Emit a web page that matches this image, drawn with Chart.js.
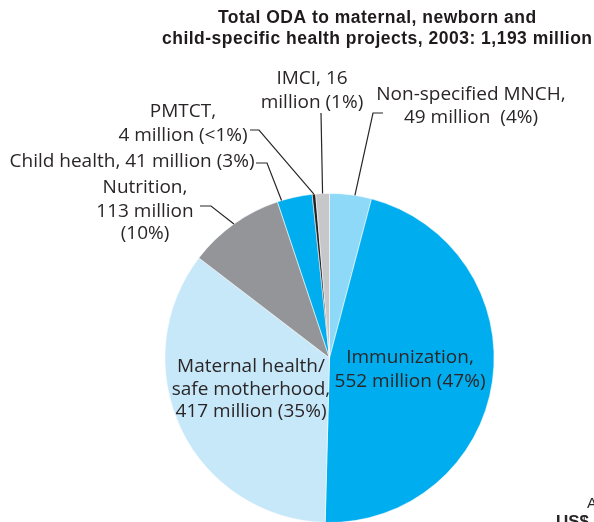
<!DOCTYPE html>
<html>
<head>
<meta charset="utf-8">
<script src="https://cdn.jsdelivr.net/npm/chart.js@4/dist/chart.umd.min.js"></script>
<style>
  html, body { margin: 0; padding: 0; background: #ffffff; overflow: hidden; width: 594px; height: 522px; }
  #wrap { position: relative; width: 594px; height: 540px; }
</style>
</head>
<body>
<div id="wrap"><canvas id="c" width="594" height="540"></canvas></div>
<script>
// ---- Data ----
const categories = ["Non-specified MNCH", "Immunization", "Maternal health/safe motherhood", "Nutrition", "Child health", "PMTCT", "IMCI"];
const values = [49, 552, 417, 113, 41, 4, 16];
const shares = ["4%", "47%", "35%", "10%", "3%", "<1%", "1%"];
const titleLines = ["Total ODA to maternal, newborn and", "child-specific health projects, 2003: 1,193 million"];
const colors = ["#8ed8f8", "#00aeef", "#c7e8f9", "#939598", "#00aeef", "#231f20", "#c6c7c9"];

const labelLines = [
  ["Non-specified MNCH,", values[0] + " million  (" + shares[0] + ")"],
  ["Immunization,", values[1] + " million (" + shares[1] + ")"],
  ["Maternal health/", "safe motherhood,", values[2] + " million (" + shares[2] + ")"],
  ["Nutrition,", values[3] + " million", "(" + shares[3] + ")"],
  ["Child health, " + values[4] + " million (" + shares[4] + ")"],
  ["PMTCT,", values[5] + " million (" + shares[5] + ")"],
  ["IMCI, " + values[6], "million (" + shares[6] + ")"]
];

// ---- Label layout (positions only) ----
const labelLayout = [
  { x: 471, y: [95, 118], leader: [[383, 113], [373, 113]], f: 0.6 },
  { x: 410, y: [358, 382], leader: null },
  { x: 251, y: [367, 390, 412], leader: null },
  { x: 145, y: [188, 212, 234], leader: [[200, 206], [211, 206]], f: 0.5 },
  { x: 132, y: [162], leader: [[256, 163], [267, 163]], f: 0.12 },
  { x: 183, y: [112, 136], leader: [[250, 130], [259, 130]], f: 0.5 },
  { x: 312, y: [79, 103], leader: [[321, 113]], f: 0.5 }
];

const TEXT = "#2a2627";
const FONT = "19px 'Open Sans', 'Liberation Sans', sans-serif";

const labelPlugin = {
  id: 'labels',
  afterDatasetsDraw(chart) {
    const ctx = chart.ctx;
    const meta = chart.getDatasetMeta(0);
    ctx.save();
    // leader lines
    ctx.strokeStyle = TEXT;
    ctx.lineWidth = 1.2;
    labelLayout.forEach((L, i) => {
      if (!L.leader) return;
      const arc = meta.data[i];
      const a = arc.startAngle + L.f * (arc.endAngle - arc.startAngle);
      const px = arc.x + Math.cos(a) * arc.outerRadius;
      const py = arc.y + Math.sin(a) * arc.outerRadius;
      ctx.beginPath();
      ctx.moveTo(L.leader[0][0], L.leader[0][1]);
      for (let k = 1; k < L.leader.length; k++) ctx.lineTo(L.leader[k][0], L.leader[k][1]);
      ctx.lineTo(px, py);
      ctx.stroke();
    });
    // label text
    ctx.fillStyle = TEXT;
    ctx.font = FONT;
    ctx.textAlign = 'center';
    ctx.textBaseline = 'middle';
    labelLayout.forEach((L, i) => {
      labelLines[i].forEach((t, k) => ctx.fillText(t, L.x, L.y[k]));
    });
    // title (bold, fitted to the reference width)
    ctx.fillStyle = "#1f1b1c";
    ctx.font = "bold 17.5px 'Liberation Sans', Arial, sans-serif";
    ctx.textBaseline = 'alphabetic';
    ctx.textAlign = 'left';
    const w2 = ctx.measureText(titleLines[1]).width;
    const ls = (430 - w2) / (titleLines[1].length - 1);
    ctx.letterSpacing = ls + 'px';
    titleLines.forEach((t, k) => {
      const w = ctx.measureText(t).width - ls;
      ctx.fillText(t, 377 - w / 2, k === 0 ? 23 : 44);
    });
    ctx.letterSpacing = '0px';
    // stray cropped text at bottom right
    ctx.fillStyle = TEXT;
    ctx.font = "15px 'Liberation Sans', sans-serif";
    ctx.fillText("A", 587, 508);
    ctx.font = "bold 17px 'Liberation Sans', sans-serif";
    ctx.fillText("US$", 556, 527);
    ctx.restore();
  }
};

new Chart(document.getElementById('c'), {
  type: 'pie',
  data: {
    labels: categories,
    datasets: [{
      data: values,
      backgroundColor: colors,
      borderColor: 'rgba(255,255,255,0.7)',
      borderWidth: 0.8
    }]
  },
  options: {
    responsive: false,
    devicePixelRatio: 1,
    animation: false,
    layout: { padding: { left: 164, right: 99, top: 193, bottom: 17 } },
    plugins: {
      legend: { display: false },
      tooltip: { enabled: false },
      title: { display: false }
    }
  },
  plugins: [labelPlugin]
});
</script>
</body>
</html>
